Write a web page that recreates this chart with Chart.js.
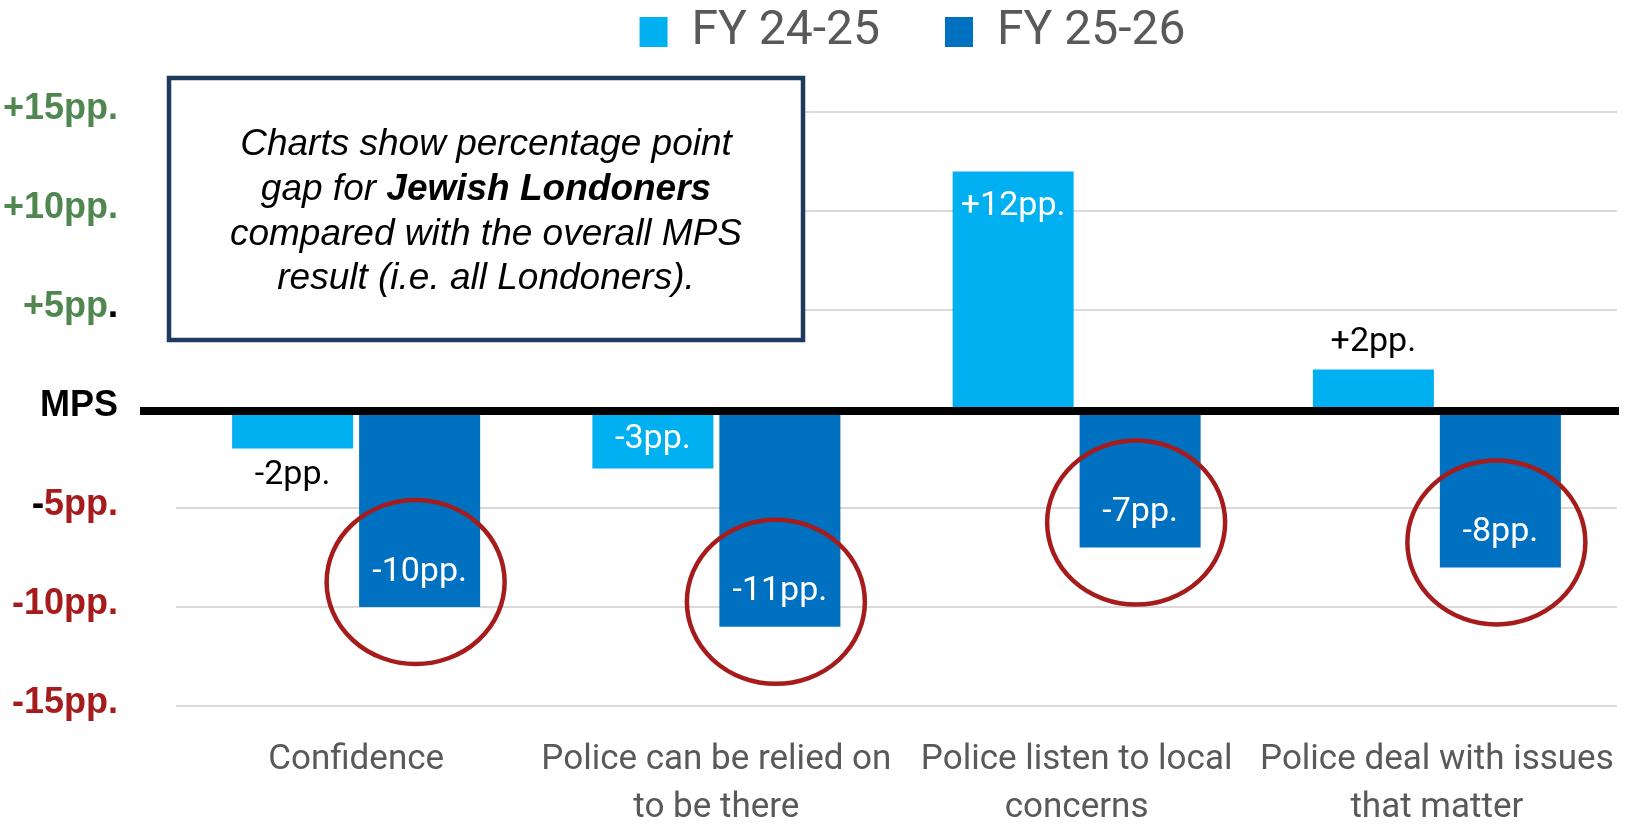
<!DOCTYPE html>
<html>
<head>
<meta charset="utf-8">
<title>Jewish Londoners - gap to MPS</title>
<script src="https://cdn.jsdelivr.net/npm/chart.js@4.4.1/dist/chart.umd.min.js"></script>
<style>
  html, body { margin: 0; padding: 0; background: #fff; }
  #wrap { width: 1625px; height: 834px; }
</style>
</head>
<body>
<div id="wrap"><canvas id="chart" width="1625" height="834"></canvas></div>
<script>
const categories = [
  "Confidence",
  ["Police can be relied on", "to be there"],
  ["Police listen to local", "concerns"],
  ["Police deal with issues", "that matter"]
];
const seriesNames = ["FY 24-25", "FY 25-26"];
const fy2425 = [-2, -3, 12, 2];
const fy2526 = [-10, -11, -7, -8];
const yTicks = [15, 10, 5, 0, -5, -10, -15];
const yTickLabels = ["+15pp.", "+10pp.", "+5pp.", "MPS", "-5pp.", "-10pp.", "-15pp."];

// text in the note box, [text, bold]
const noteLines = [
  [["Charts show percentage point", false]],
  [["gap for ", false], ["Jewish Londoners", true]],
  [["compared with the overall MPS", false]],
  [["result (i.e. all Londoners).", false]]
];

const LIGHT = "#00b0f0";
const DARK = "#0070c0";
const GREEN = "#508650";
const RED = "#a61c1c";
const TICK_FONT = "bold 36px 'Liberation Sans', Arial, sans-serif";

function labelFor(v) {
  return (v > 0 ? "+" : "") + v + "pp.";
}

// legend sits higher than chart.js would put it, keep the plot top at 112px
const legendTweak = {
  id: "legendTweak",
  afterInit(chart) {
    const lg = chart.legend;
    const fit = lg.fit.bind(lg);
    lg.fit = function () { fit(); this.height = 112; };
    const draw = lg.draw.bind(lg);
    lg.draw = function () {
      const c = this.ctx;
      c.save();
      c.translate(16, -57);
      draw();
      c.restore();
    };
  }
};

const zeroLine = {
  id: "zeroLine",
  afterDatasetsDraw(chart) {
    const ctx = chart.ctx;
    const area = chart.chartArea;
    const y0 = chart.scales.y.getPixelForValue(0) + 2;
    ctx.save();
    ctx.fillStyle = "#000";
    ctx.fillRect(area.left - 36, y0 - 4, area.right - area.left + 38, 8);
    ctx.restore();
  }
};

const barLabels = {
  id: "barLabels",
  afterDatasetsDraw(chart) {
    const ctx = chart.ctx;
    ctx.save();
    ctx.font = "34px Roboto";
    ctx.textAlign = "center";
    ctx.textBaseline = "middle";
    chart.data.datasets.forEach((ds, di) => {
      chart.getDatasetMeta(di).data.forEach((bar, i) => {
        const v = ds.data[i];
        const len = Math.abs(bar.y - bar.base);
        const dir = v < 0 ? 1 : -1;
        let ty;
        if (len > 50) {
          ty = bar.y - dir * Math.min(35, len / 2);
          ctx.fillStyle = "#fff";
        } else {
          ty = bar.y + dir * 27;
          ctx.fillStyle = "#000";
        }
        ctx.fillText(labelFor(v), bar.x, ty);
      });
    });
    ctx.restore();
  }
};

// the +5 full stop and the -5 minus are black in the original
const tickMarks = {
  id: "tickMarks",
  afterDraw(chart) {
    const ctx = chart.ctx;
    const y = chart.scales.y;
    const right = chart.chartArea.left - 58;
    ctx.save();
    ctx.font = TICK_FONT;
    ctx.fillStyle = "#000";
    ctx.textBaseline = "middle";
    ctx.textAlign = "right";
    ctx.fillText(".", right, y.getPixelForValue(5) - 3);
    const m5 = yTickLabels[yTicks.indexOf(-5)];
    ctx.textAlign = "left";
    ctx.fillText("-", right - ctx.measureText(m5).width, y.getPixelForValue(-5) - 3);
    ctx.restore();
  }
};

// red rings round the FY 25-26 bar ends, then the note box
const annotations = {
  id: "annotations",
  afterDraw(chart) {
    const ctx = chart.ctx;
    const area = chart.chartArea;
    ctx.save();
    ctx.strokeStyle = RED;
    ctx.lineWidth = 4.5;
    chart.getDatasetMeta(1).data.forEach(bar => {
      ctx.beginPath();
      ctx.ellipse(bar.x - 4, bar.y - 25, 89, 82, 0, 0, Math.PI * 2);
      ctx.stroke();
    });

    const bx = area.left - 7, by = area.top - 34, bw = 634, bh = 262;
    ctx.fillStyle = "#fff";
    ctx.fillRect(bx, by, bw, bh);
    ctx.strokeStyle = "#1f3a5f";
    ctx.lineWidth = 4.5;
    ctx.strokeRect(bx, by, bw, bh);

    const cx = bx + bw / 2;
    ctx.fillStyle = "#000";
    ctx.textBaseline = "middle";
    ctx.textAlign = "left";
    noteLines.forEach((parts, li) => {
      const ly = by + 67 + li * 44.7;
      let total = 0;
      parts.forEach(p => {
        ctx.font = (p[1] ? "italic bold " : "italic ") + "37px 'Liberation Sans', Arial, sans-serif";
        total += ctx.measureText(p[0]).width;
      });
      let x = cx - total / 2;
      parts.forEach(p => {
        ctx.font = (p[1] ? "italic bold " : "italic ") + "37px 'Liberation Sans', Arial, sans-serif";
        ctx.fillText(p[0], x, ly);
        x += ctx.measureText(p[0]).width;
      });
    });
    ctx.restore();
  }
};

new Chart(document.getElementById("chart"), {
  type: "bar",
  data: {
    labels: categories,
    datasets: [
      { label: seriesNames[0], data: fy2425, backgroundColor: LIGHT, borderWidth: 0,
        categoryPercentage: 0.705, barPercentage: 0.953 },
      { label: seriesNames[1], data: fy2526, backgroundColor: DARK, borderWidth: 0,
        categoryPercentage: 0.705, barPercentage: 0.953 }
    ]
  },
  options: {
    responsive: false,
    animation: false,
    layout: { padding: { left: 0, right: 8, top: 0, bottom: 0 } },
    plugins: {
      legend: {
        position: "top",
        fullSize: false,
        labels: {
          boxWidth: 28,
          boxHeight: 30,
          padding: 65,
          color: "#595959",
          font: { family: "Roboto", size: 48 }
        }
      },
      tooltip: { enabled: false }
    },
    scales: {
      x: {
        grid: { display: false, drawTicks: false },
        border: { display: false },
        ticks: {
          color: "#595959",
          font: { family: "Roboto", size: 35, lineHeight: 1.38 },
          padding: 30,
          maxRotation: 0,
          autoSkip: false
        },
        afterFit(scale) {
          scale.height = 128;
          scale.paddingLeft = 0;
          scale.paddingRight = 0;
        }
      },
      y: {
        min: -15,
        max: 15,
        grid: {
          color: c => (c.tick && c.tick.value === 0) ? "rgba(0,0,0,0)" : "#d9d9d9",
          lineWidth: 2,
          drawTicks: false
        },
        border: { display: false },
        ticks: {
          stepSize: 5,
          padding: 58,
          labelOffset: -3,
          callback: v => yTickLabels[yTicks.indexOf(v)],
          color: c => c.tick.value > 0 ? GREEN : (c.tick.value < 0 ? RED : "#000"),
          font: { family: "'Liberation Sans', Arial, sans-serif", size: 36, weight: "bold" }
        },
        afterFit(scale) { scale.width = 176; }
      }
    }
  },
  plugins: [legendTweak, zeroLine, barLabels, tickMarks, annotations]
});
</script>
</body>
</html>
